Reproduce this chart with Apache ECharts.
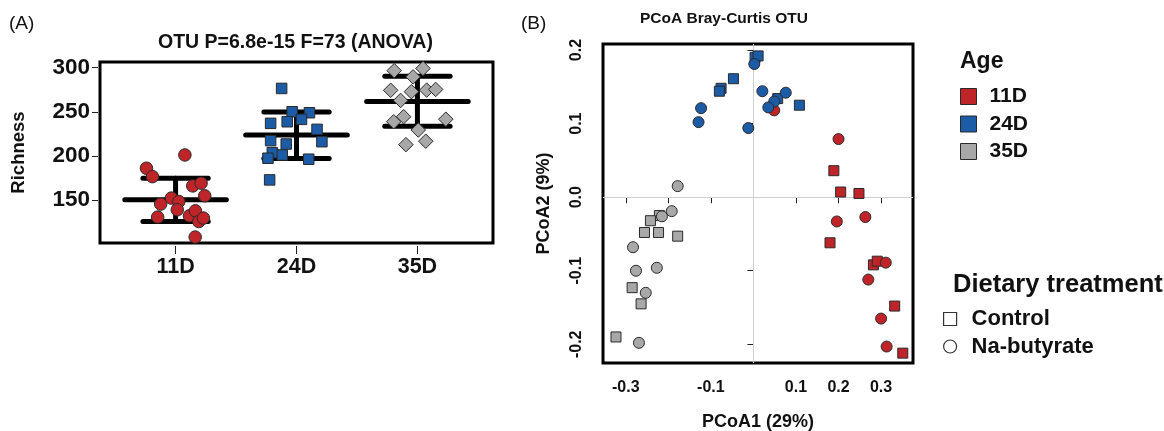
<!DOCTYPE html>
<html>
<head>
<meta charset="utf-8">
<script src="https://cdn.jsdelivr.net/npm/echarts@6/dist/echarts.min.js"></script>
<style>
  html, body { margin: 0; padding: 0; background: #fff; }
  #chart { width: 1164px; height: 431px; }
</style>
</head>
<body>
<div id="chart"></div>
<script>
const ageGroups = ['11D', '24D', '35D'];
const ageColors = ['#bf2429', '#1c5ba6', '#a8a8a8'];

// (A) richness, x is the jittered group position (1, 2, 3)
const rich11x = [1.077, 0.759, 0.809, 1.142, 1.211, 1.241, 0.965, 1.027, 0.877, 1.014, 0.852, 1.115, 1.164, 1.192, 1.230, 1.162];
const rich11y = [201.1, 186.1, 176.6, 166.1, 169.2, 154.9, 152.3, 148.4, 145.5, 139.1, 130.8, 132.3, 137.9, 125.8, 129.7, 108.2];
const rich24x = [1.877, 1.964, 2.107, 2.041, 1.923, 1.786, 2.170, 2.210, 1.786, 1.915, 1.800, 1.882, 1.764, 2.101, 1.778];
const rich24y = [276.4, 250.0, 248.9, 241.4, 238.7, 236.9, 230.1, 216.1, 217.3, 213.5, 203.7, 201.1, 197.4, 196.3, 172.9];
const rich35x = [2.808, 3.046, 2.964, 2.779, 2.950, 3.077, 3.151, 2.861, 2.804, 2.886, 3.235, 3.007, 3.069, 2.905];
const rich35y = [296.5, 299.0, 289.5, 274.3, 272.7, 274.5, 275.3, 262.8, 238.7, 244.4, 241.6, 229.3, 216.7, 212.8];
const richMean = [150.3, 223.7, 261.5];
const richSdLow = [125.8, 197.0, 233.5];
const richSdHigh = [174.8, 249.7, 290.3];
const richTicks = [150, 200, 250, 300];

// (B) PCoA coordinates [PCoA1, PCoA2]
const pcoa11Control = [[0.189, 0.036], [0.205, 0.007], [0.248, 0.005], [0.180, -0.062], [0.282, -0.092], [0.291, -0.087], [0.332, -0.148], [0.351, -0.212]];
const pcoa11Butyrate = [[0.200, 0.079], [0.263, -0.027], [0.196, -0.033], [0.311, -0.089], [0.270, -0.112], [0.300, -0.165], [0.313, -0.203], [0.049, 0.118]];
const pcoa24Control = [[0.004, 0.190], [0.011, 0.192], [-0.047, 0.161], [-0.076, 0.148], [-0.080, 0.144], [0.057, 0.134], [0.108, 0.125]];
const pcoa24Butyrate = [[0.002, 0.181], [0.021, 0.144], [0.076, 0.142], [0.049, 0.130], [0.035, 0.122], [-0.123, 0.121], [-0.129, 0.102], [-0.012, 0.094]];
const pcoa35Control = [[-0.221, -0.025], [-0.242, -0.032], [-0.256, -0.048], [-0.223, -0.048], [-0.178, -0.053], [-0.285, -0.123], [-0.264, -0.145], [-0.323, -0.190]];
const pcoa35Butyrate = [[-0.178, 0.015], [-0.192, -0.019], [-0.215, -0.026], [-0.283, -0.068], [-0.276, -0.100], [-0.227, -0.096], [-0.253, -0.130], [-0.269, -0.198]];
const pcoaXTicks = [-0.3, -0.2, -0.1, 0, 0.1, 0.2, 0.3];
const pcoaXLabels = [-0.3, -0.1, 0.1, 0.2, 0.3];
const pcoaYTicks = [-0.2, -0.1, 0, 0.1, 0.2];

const font = 'Liberation Sans, Arial, Helvetica, sans-serif';
const ink = '#111';
const border = { borderColor: '#2a2a2a', borderWidth: 1 };

const zip = (xs, ys) => xs.map((x, i) => [x, ys[i]]);

const chart = echarts.init(document.getElementById('chart'), null, { renderer: 'canvas' });

const boldText = (size) => ({ fontFamily: font, fontWeight: 'bold', fontSize: size, color: ink });

const opts = {
  animation: false,
  textStyle: { fontFamily: font },
  title: [
    { text: '(A)', left: 9, top: 14, padding: 0, textStyle: { fontFamily: font, fontWeight: 'normal', fontSize: 19, color: ink } },
    { text: '(B)', left: 521, top: 14, padding: 0, textStyle: { fontFamily: font, fontWeight: 'normal', fontSize: 19, color: ink } },
    { text: 'OTU P=6.8e-15 F=73 (ANOVA)', left: 158, top: 33, padding: 0, textStyle: boldText(19.5) },
    { text: 'PCoA Bray-Curtis OTU', left: 640, top: 11, padding: 0, textStyle: boldText(15.5) },
    { text: 'Age', left: 960, top: 50, padding: 0, textStyle: boldText(23) },
    { text: 'Dietary treatment', left: 953, top: 272, padding: 0, textStyle: boldText(25.5) },
  ],
  legend: [
    {
      data: ageGroups.map((g, i) => ({ name: g, icon: 'rect', itemStyle: { color: ageColors[i], borderColor: '#2a2a2a', borderWidth: 1 } })),
      orient: 'vertical', left: 960, top: 86, padding: 0,
      itemWidth: 16, itemHeight: 16, itemGap: 6.5, selectedMode: false,
      textStyle: Object.assign(boldText(21), { lineHeight: 16, padding: [0, 0, 0, 8] }),
    },
    {
      data: [
        { name: 'Control', icon: 'rect', itemStyle: { color: '#fff', borderColor: '#000', borderWidth: 1.2 } },
        { name: 'Na-butyrate', icon: 'circle', itemStyle: { color: '#fff', borderColor: '#000', borderWidth: 1.2 } },
      ],
      orient: 'vertical', left: 943, top: 308, padding: 0,
      itemWidth: 13, itemHeight: 13, itemGap: 5.5, selectedMode: false,
      textStyle: Object.assign(boldText(22), { lineHeight: 14, padding: [0, 0, 0, 10] }),
    },
  ],
  grid: [
    { left: 100, top: 62, width: 393, height: 181, outerBoundsMode: 'none', show: true, borderColor: '#000', borderWidth: 3, backgroundColor: 'transparent' },
    { left: 603, top: 44, width: 310, height: 319, outerBoundsMode: 'none', show: true, borderColor: '#000', borderWidth: 3, backgroundColor: 'transparent' },
  ],
  xAxis: [
    {
      gridIndex: 0, type: 'value', min: 0.375, max: 3.625, offset: 3,
      axisLine: { show: false }, splitLine: { show: false },
      axisTick: { show: true, length: 8, customValues: [1, 2, 3], lineStyle: { color: '#222', width: 1 } },
      axisLabel: { customValues: [1, 2, 3], margin: 10, formatter: (v) => ageGroups[Math.round(v) - 1], ...boldText(21.5) },
    },
    {
      gridIndex: 1, type: 'value', min: -0.3535, max: 0.375, offset: 3,
      name: 'PCoA1 (29%)', nameLocation: 'middle', nameGap: 47, nameTextStyle: boldText(18),
      axisLine: { show: false }, splitLine: { show: false },
      axisTick: { show: true, length: 6, customValues: pcoaXTicks, lineStyle: { color: '#222', width: 1 } },
      axisLabel: { customValues: pcoaXLabels, margin: 14, formatter: (v) => v.toFixed(1), ...boldText(16) },
    },
  ],
  yAxis: [
    {
      gridIndex: 0, type: 'value', min: 101.5, max: 306.3, offset: 2,
      name: 'Richness', nameLocation: 'middle', nameGap: 70, nameRotate: 90, nameTextStyle: boldText(18.5),
      axisLine: { show: false }, splitLine: { show: false },
      axisTick: { show: true, length: 6, customValues: richTicks, lineStyle: { color: '#222', width: 1 } },
      axisLabel: { customValues: richTicks, margin: 8, ...boldText(22.5) },
    },
    {
      gridIndex: 1, type: 'value', min: -0.2254, max: 0.2082, offset: 3,
      name: 'PCoA2 (9%)', nameLocation: 'middle', nameGap: 47, nameRotate: 90, nameTextStyle: boldText(18),
      axisLine: { show: false }, splitLine: { show: false },
      axisTick: { show: true, length: 6, customValues: pcoaYTicks, lineStyle: { color: '#222', width: 1 } },
      axisLabel: { customValues: pcoaYTicks, margin: 15, rotate: 90, formatter: (v) => v.toFixed(1), ...boldText(16) },
    },
  ],
  series: [
    {
      name: 'mean ± sd', type: 'custom', xAxisIndex: 0, yAxisIndex: 0, z: 1, silent: true,
      data: ageGroups.map((g, i) => [i + 1, richMean[i], richSdLow[i], richSdHigh[i]]),
      renderItem: (params, api) => {
        const g = api.value(0);
        const m = api.value(1);
        const lo = api.value(2);
        const hi = api.value(3);
        const seg = (xa, ya, xb, yb) => {
          const a = api.coord([xa, ya]);
          const b = api.coord([xb, yb]);
          return { type: 'line', shape: { x1: a[0], y1: a[1], x2: b[0], y2: b[1] }, style: { stroke: '#000', lineWidth: 5, lineCap: 'round' } };
        };
        return {
          type: 'group',
          children: [
            seg(g, lo, g, hi),
            seg(g - 0.42, m, g + 0.42, m),
            seg(g - 0.27, lo, g + 0.27, lo),
            seg(g - 0.27, hi, g + 0.27, hi),
          ],
        };
      },
    },
    { name: '11D', type: 'scatter', xAxisIndex: 0, yAxisIndex: 0, z: 3, symbol: 'circle', symbolSize: 12.5, itemStyle: { color: ageColors[0], opacity: 1, ...border }, data: zip(rich11x, rich11y) },
    { name: '24D', type: 'scatter', xAxisIndex: 0, yAxisIndex: 0, z: 3, symbol: 'rect', symbolSize: 10.5, itemStyle: { color: ageColors[1], opacity: 1, ...border }, data: zip(rich24x, rich24y) },
    { name: '35D', type: 'scatter', xAxisIndex: 0, yAxisIndex: 0, z: 3, symbol: 'diamond', symbolSize: 14.5, itemStyle: { color: ageColors[2], opacity: 1, ...border }, data: zip(rich35x, rich35y) },
    {
      name: 'zero', type: 'scatter', xAxisIndex: 1, yAxisIndex: 1, z: 1, silent: true, data: [],
      markLine: {
        silent: true, symbol: 'none', z: 1, label: { show: false },
        lineStyle: { color: '#cfcfcf', width: 1, type: 'solid' },
        data: [{ xAxis: 0 }, { yAxis: 0 }],
      },
    },
    { name: '11D', type: 'scatter', xAxisIndex: 1, yAxisIndex: 1, z: 3, symbol: 'rect', symbolSize: 10, itemStyle: { color: ageColors[0], opacity: 1, ...border }, data: pcoa11Control },
    { name: '11D', type: 'scatter', xAxisIndex: 1, yAxisIndex: 1, z: 3, symbol: 'circle', symbolSize: 11, itemStyle: { color: ageColors[0], opacity: 1, ...border }, data: pcoa11Butyrate },
    { name: '24D', type: 'scatter', xAxisIndex: 1, yAxisIndex: 1, z: 3, symbol: 'rect', symbolSize: 10, itemStyle: { color: ageColors[1], opacity: 1, ...border }, data: pcoa24Control },
    { name: '24D', type: 'scatter', xAxisIndex: 1, yAxisIndex: 1, z: 3, symbol: 'circle', symbolSize: 11, itemStyle: { color: ageColors[1], opacity: 1, ...border }, data: pcoa24Butyrate },
    { name: '35D', type: 'scatter', xAxisIndex: 1, yAxisIndex: 1, z: 3, symbol: 'rect', symbolSize: 10, itemStyle: { color: ageColors[2], opacity: 1, ...border }, data: pcoa35Control },
    { name: '35D', type: 'scatter', xAxisIndex: 1, yAxisIndex: 1, z: 3, symbol: 'circle', symbolSize: 11, itemStyle: { color: ageColors[2], opacity: 1, ...border }, data: pcoa35Butyrate },
    { name: 'Control', type: 'scatter', xAxisIndex: 1, yAxisIndex: 1, symbol: 'rect', itemStyle: { color: '#fff', borderColor: '#000' }, data: [] },
    { name: 'Na-butyrate', type: 'scatter', xAxisIndex: 1, yAxisIndex: 1, symbol: 'circle', itemStyle: { color: '#fff', borderColor: '#000' }, data: [] },
  ],
};

chart.setOption(opts);
</script>
</body>
</html>
